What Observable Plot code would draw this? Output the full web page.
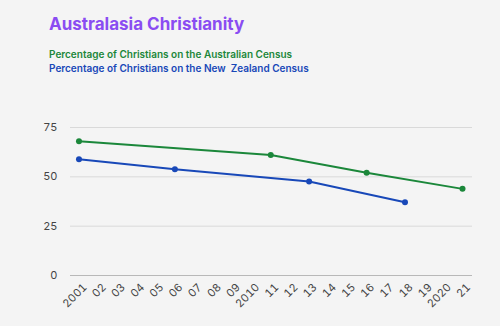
<!DOCTYPE html>
<html>
<head>
<meta charset="utf-8">
<script src="https://cdn.jsdelivr.net/npm/d3@7"></script>
<script src="https://cdn.jsdelivr.net/npm/@observablehq/plot@0.6"></script>
<style>
  html, body { margin: 0; padding: 0; background: #f4f4f4; }
  body { width: 500px; height: 326px; overflow: hidden; font-family: Inter, "Noto Sans", sans-serif; }
  #title { position: absolute; left: 49px; top: 13px; font-size: 17px; font-weight: 700; color: #8a4cf2; line-height: 22px; letter-spacing: 0; }
  #sub { position: absolute; left: 49px; top: 47px; font-size: 10px; font-weight: 600; line-height: 14px; }
  #chart { position: absolute; left: 0; top: 80px; }
</style>
</head>
<body>
<div id="title">Australasia Christianity</div>
<div id="sub">
  <div style="color:#1b873a">Percentage of Christians on the Australian Census</div>
  <div style="color:#1848b8">Percentage of Christians on the New&nbsp; Zealand Census</div>
</div>
<div id="chart"></div>
<script>
const ausYears = [2001, 2011, 2016, 2021];
const ausValues = [68.0, 61.1, 52.1, 43.9];
const nzYears = [2001, 2006, 2013, 2018];
const nzValues = [58.9, 53.9, 47.6, 37.1];
const xTicks = d3.range(2001, 2022);
const xTickLabels = ["2001","02","03","04","05","06","07","08","09","2010","11","12","13","14","15","16","17","18","19","2020","21"];
const yTicks = [0, 25, 50, 75];

const aus = ausYears.map((y, i) => ({year: y, value: ausValues[i]}));
const nz = nzYears.map((y, i) => ({year: y, value: nzValues[i]}));
const green = "#1b873a", blue = "#1848b8";

const chart = Plot.plot({
  width: 500,
  height: 246,
  marginLeft: 70,
  marginRight: 28,
  marginTop: 47,
  marginBottom: 51,
  style: {background: "transparent", fontFamily: "Inter, 'Noto Sans', sans-serif", fontSize: "11px", color: "#444"},
  x: {domain: [2000.557, 2021.52], label: null},
  y: {domain: [0, 75], label: null},
  marks: [
    Plot.ruleY(yTicks.filter(d => d > 0), {stroke: "#d9d9d9", strokeWidth: 1}),
    Plot.ruleY([0], {stroke: "#b8b8b8", strokeWidth: 1}),
    Plot.axisY({ticks: yTicks, tickSize: 0, tickPadding: 13, fill: "#444", label: null}),
    Plot.axisX({ticks: xTicks, tickFormat: (d) => xTickLabels[xTicks.indexOf(d)], tickSize: 0, tickPadding: 6, tickRotate: -45, dx: 6, dy: 4, fill: "#444", label: null}),
    Plot.line(aus, {x: "year", y: "value", stroke: green, strokeWidth: 2}),
    Plot.dot(aus, {x: "year", y: "value", fill: green, r: 3}),
    Plot.line(nz, {x: "year", y: "value", stroke: blue, strokeWidth: 2}),
    Plot.dot(nz, {x: "year", y: "value", fill: blue, r: 3})
  ]
});
document.getElementById("chart").appendChild(chart);
</script>
</body>
</html>
